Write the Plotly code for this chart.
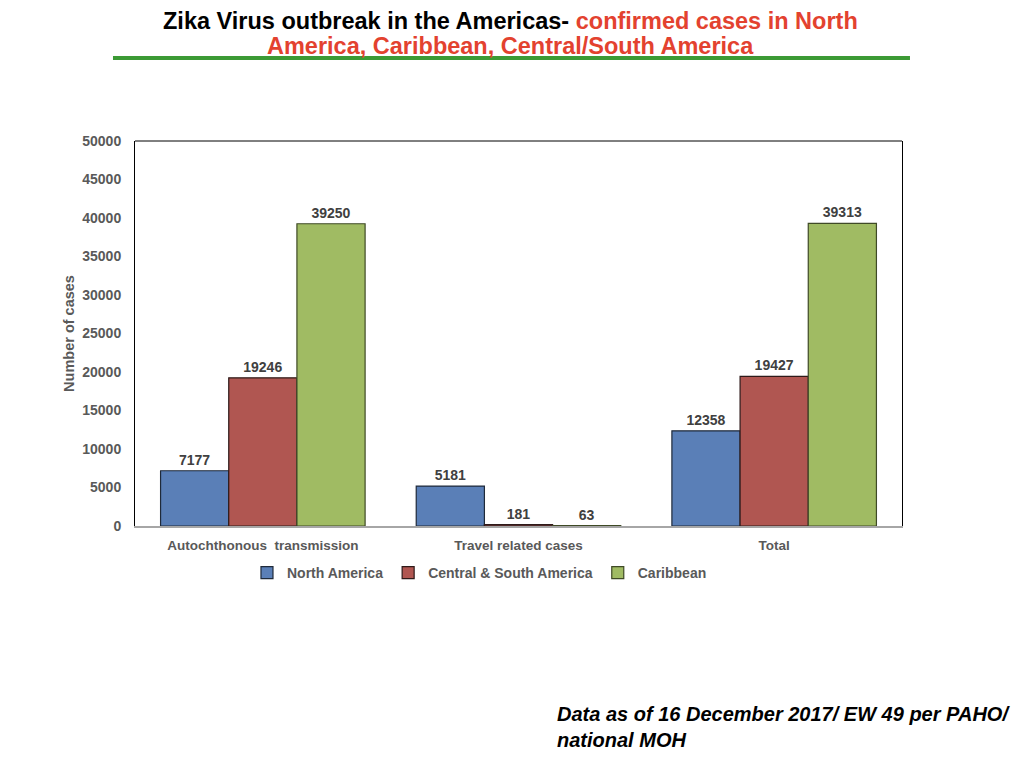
import plotly.graph_objects as go

# 数据
categories = ["Autochthonous  transmission", "Travel related cases", "Total"]
north_america = [7177, 5181, 12358]
central_south = [19246, 181, 19427]
caribbean = [39250, 63, 39313]

series = [
    ("North America", north_america, "#5a7fb7", "#1f2a3a"),
    ("Central & South America", central_south, "#b05651", "#2e1a19"),
    ("Caribbean", caribbean, "#a0bb63", "#3f4a26"),
]

FONT = "Liberation Sans, Arial, sans-serif"
GRAY = "#595959"

fig = go.Figure()
for name, vals, color, edge in series:
    fig.add_trace(go.Bar(
        x=categories, y=vals, name="<b>" + name + "</b>",
        marker=dict(color=color, line=dict(color=edge, width=1.2)),
        text=[str(v) for v in vals], texttemplate="<b>%{text}</b>",
        textposition="outside",
        textfont=dict(family=FONT, size=14, color="#404040"),
        cliponaxis=False,
    ))

# 页面有 8px 的偏移，边距相应减去
fig.update_layout(
    width=1024, height=768,
    paper_bgcolor="white", plot_bgcolor="white",
    margin=dict(l=127, r=130, t=133, b=250),
    barmode="group", bargap=0.2, bargroupgap=0,
    font=dict(family=FONT, size=14, color=GRAY),
    showlegend=True,
    legend=dict(orientation="h", x=0.146, xanchor="left", y=-0.122, yanchor="middle",
                font=dict(family=FONT, size=14, color=GRAY),
                itemwidth=30, traceorder="normal"),
    xaxis=dict(showline=True, linecolor="#a6a6a6", linewidth=2, ticks="",
               ticklabelstandoff=6, tickprefix="<b>", ticksuffix="</b>",
               tickfont=dict(family=FONT, size=13.5, color=GRAY), showgrid=False),
    yaxis=dict(range=[0, 50000], dtick=5000, tickformat="d", showgrid=False, zeroline=False,
               showline=True, linecolor="black", linewidth=1, mirror=True,
               ticks="", ticklabelstandoff=10, tickprefix="<b>", ticksuffix="</b>",
               tickfont=dict(family=FONT, size=14, color=GRAY),
               title=dict(text="<b>Number of cases</b>", standoff=4,
                          font=dict(family=FONT, size=14.5, color=GRAY))),
)

# 顶部边框
fig.add_shape(type="line", xref="paper", yref="paper", x0=0, x1=1, y0=1, y1=1,
              line=dict(color="black", width=1))
# 标题下的绿色横线
fig.add_shape(type="line", xref="paper", yref="paper", x0=-0.0287, x1=1.0104,
              y0=1.2156, y1=1.2156, line=dict(color="#3c9a35", width=4))

fig.add_annotation(
    xref="paper", yref="paper", x=0.489, y=1.3117, yanchor="middle", showarrow=False,
    text="<b>Zika Virus outbreak in the Americas- <span style='color:#e3422f'>confirmed cases in North</span></b>",
    font=dict(family=FONT, size=23.5, color="black"))
fig.add_annotation(
    xref="paper", yref="paper", x=0.489, y=1.2468, yanchor="middle", showarrow=False,
    text="<b>America, Caribbean, Central/South America</b>",
    font=dict(family=FONT, size=23.5, color="#e3422f"))

fig.add_annotation(
    xref="paper", yref="paper", x=0.547, y=-0.522, xanchor="left", yanchor="middle",
    showarrow=False, align="left",
    text="<b><i>Data as of 16 December 2017/ EW 49 per PAHO/<br>national MOH</i></b>",
    font=dict(family=FONT, size=20, color="black"))

fig.write_html("out.html")
